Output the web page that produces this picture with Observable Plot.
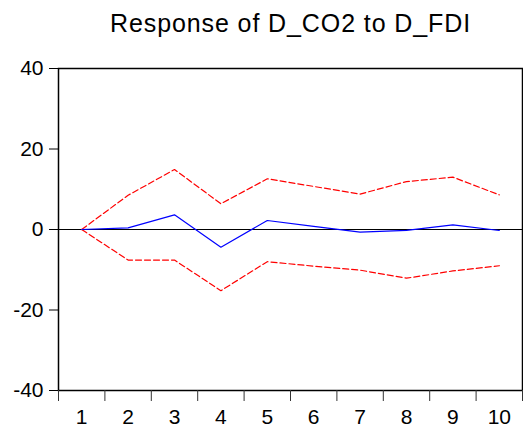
<!DOCTYPE html>
<html><head><meta charset="utf-8">
<script src="https://cdn.jsdelivr.net/npm/d3@7"></script>
<script src="https://cdn.jsdelivr.net/npm/@observablehq/plot@0.6"></script>
<style>body{margin:0;background:#fff;}</style>
</head><body><div id="chart"></div>
<script>
const title = "Response of D_CO2 to D_FDI";
const periods = [1, 2, 3, 4, 5, 6, 7, 8, 9, 10];
const response = [0, 0.4, 3.65, -4.4, 2.24, 0.8, -0.67, -0.2, 1.15, -0.25];
const upper = [0, 8.5, 14.9, 6.4, 12.6, 10.7, 8.8, 11.9, 13.0, 8.6];
const lower = [0, -7.6, -7.6, -15.2, -8.0, -9.1, -10.1, -12.1, -10.3, -9.0];
const yTicks = [-40, -20, 0, 20, 40];
const xBoundaries = [0.5, 1.5, 2.5, 3.5, 4.5, 5.5, 6.5, 7.5, 8.5, 9.5, 10.5];

const data = periods.map((p, i) => ({period: p, response: response[i], upper: upper[i], lower: lower[i]}));

const chart = Plot.plot({
  width: 523, height: 429,
  marginTop: 68, marginLeft: 58, marginRight: 1, marginBottom: 39,
  style: {fontFamily: "'Liberation Sans', Arial, sans-serif", background: "#fff", color: "#000"},
  x: {domain: [0.5, 10.5]},
  y: {domain: [-40, 40]},
  marks: [
    Plot.ruleY([0], {stroke: "#000", strokeWidth: 1.2}),
    Plot.lineY(data, {x: "period", y: "upper", stroke: "#ff0000", strokeDasharray: "6,3", strokeWidth: 1.2}),
    Plot.lineY(data, {x: "period", y: "lower", stroke: "#ff0000", strokeDasharray: "6,3", strokeWidth: 1.2}),
    Plot.lineY(data, {x: "period", y: "response", stroke: "#0000ff", strokeWidth: 1.2}),
    Plot.frame({stroke: "#000", strokeWidth: 1.5}),
    Plot.axisY(yTicks, {tickSize: 9, tickPadding: 6, fontSize: 21, label: null, stroke: "#000", tickFormat: d => String(d)}),
    Plot.axisX(xBoundaries, {tickSize: 11, tickFormat: () => "", label: null, stroke: "#333"}),
    Plot.axisX(periods, {tickSize: 0, tickPadding: 19, fontSize: 21, label: null, tickFormat: d => String(d)}),
    Plot.text([title], {frameAnchor: "top", dy: -37, lineAnchor: "bottom", fontSize: 25, fill: "#000"})
  ]
});
d3.select(chart).selectAll("g[aria-label=text] text").attr("letter-spacing", "0.9px");
document.getElementById("chart").appendChild(chart);
</script>
</body></html>
